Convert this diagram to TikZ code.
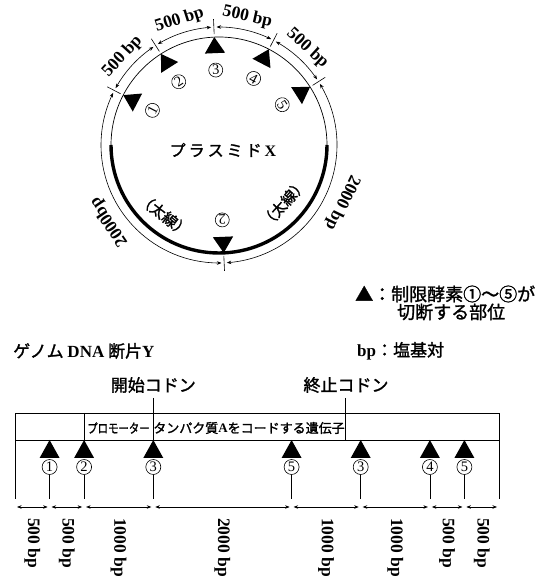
\documentclass[tikz,border=0pt]{standalone}
\usepackage{fontspec}
\setmainfont{Liberation Serif}
\newfontfamily\jp[FakeBold=1.5]{Noto Sans CJK JP}
\usetikzlibrary{arrows.meta,bending}
\tikzset{
  dimline/.style={{Stealth[length=4.5pt,width=3.5pt]}-{Stealth[length=4.5pt,width=3.5pt]}, line width=0.6pt},
  cnum/.style={draw, circle, line width=0.6pt, inner sep=0pt, minimum size=15pt, font=\fontsize{14.5}{14.5}\selectfont},
  lat/.style={font=\bfseries\fontsize{17.5}{18}\selectfont, inner sep=0pt},
  jpl/.style={font=\jp\fontsize{17}{20}\selectfont, inner sep=0pt},
  jps/.style={font=\jp\fontsize{13}{15}\selectfont, inner sep=0pt},
  thinline/.style={line width=0.7pt},
}
\newcommand\lt[1]{{\rmfamily\bfseries #1}}
\begin{document}
\begin{tikzpicture}[x=1pt,y=1pt]
\useasboundingbox (0,0) rectangle (555,580);
% ---------------- plasmid X ----------------
\coordinate (C) at (219,435);
\def\Ro{118}
\def\Ri{108}
\draw[thinline] (C) circle[radius=\Ri];
\draw[line width=3.4pt] ([shift={(180:\Ri)}]C) arc[start angle=180,end angle=360,radius=\Ri];
% outer dimension arcs
\foreach \a/\b in {152.5/122.5, 122.5/92.5, 92.5/62.5, 62.5/32.5, 32.5/-87.5, 272.5/152.5}{
  \draw[dimline] ([shift={(\a-1.3:\Ro)}]C) arc[start angle=\a-1.3, end angle=\b+1.3, radius=\Ro];
}
% ticks, triangles, circled numbers
\foreach \a/\n [count=\i] in {152.5/1, 122.5/2, 92.5/3, 62.5/4, 32.5/5, 272.5/2}{
  \draw[line width=0.6pt] ([shift={(\a:111)}]C) -- ([shift={(\a:126)}]C);
  \fill ([shift={(\a:\Ri)}]C) -- ([shift={(\a+6.3:92.5)}]C) -- ([shift={(\a-6.3:92.5)}]C) -- cycle;
  \node[cnum, minimum size=14pt, rotate=\a-90] (p\i) at ([shift={(\a:75)}]C) {\n};
}
% length labels
\foreach \m [count=\i] in {137.5,107.5,77.5,47.5}{
  \node[lat, rotate=\m-90] (l\i) at ([shift={(\m:131)}]C) {500 bp};
}
\node[lat, rotate=124] (l2000a) at ([shift={(215:134)}]C) {2000bp};
\node[lat, rotate=244] (l2000b) at ([shift={(335:136)}]C) {2000 bp};
\node[jps, font=\jp\fontsize{15}{16}\selectfont, rotate=-38] (ta) at ([shift={(232:89)}]C) {（太線）};
\node[jps, font=\jp\fontsize{15}{16}\selectfont, rotate=48] (tb) at ([shift={(318:87)}]C) {（太線）};
\node[jpl, font=\jp\fontsize{16}{18}\selectfont] (px) at (223,430) {プ\hspace{3pt}ラ\hspace{3pt}ス\hspace{3pt}ミ\hspace{3pt}ド\hspace{3pt}\lt{X}};
% ---------------- legend ----------------
\node[jpl, anchor=west, font=\jp\fontsize{18}{20}\selectfont] (lg1) at (355,286) {▲：制限酵素①～⑤が};
\node[jpl, anchor=west, font=\jp\fontsize{18}{20}\selectfont] (lg2) at (397,268) {切断する部位};
\node[jpl, anchor=west] (lg3) at (357,229) {\lt{\fontsize{17}{20}\selectfont bp}：塩基対};
\node[jpl, anchor=west] (gy) at (13,229) {ゲノム \lt{DNA} 断片\lt{Y}};
% ---------------- genome DNA fragment Y ----------------
\draw[thinline] (15,167) rectangle (499,140);
\draw[thinline] (15,140) -- (15,81);
\draw[thinline] (499,140) -- (499,81);
\draw[thinline] (84.1,167) -- (84.1,140);
\coordinate (st) at (153.3,182);
\coordinate (sp) at (345,182);
\draw[thinline] (st) -- (153.3,140);
\draw[thinline] (sp) -- (345,140);
\node[jpl] (stl) at (153.3,195) {開始コドン};
\node[jpl] (spl) at (346,195) {終止コドン};
\node[jps] (prom) at (118.5,152) {\scalebox{0.8}[1]{プロモーター}};
\node[jps] (gene) at (249,152) {タンパク質\lt{A}をコードする遺伝子};
\foreach \x/\n [count=\i] in {49.6/1, 84.1/2, 153.3/3, 291.6/5, 360.7/3, 429.9/4, 464.4/5}{
  \fill (\x,140) -- (\x-10,122) -- (\x+10,122) -- cycle;
  \node[cnum] (c\i) at (\x,113) {\n};
  \draw[line width=0.6pt] (c\i.south) -- (\x,81);
}
\foreach \a/\b/\t [count=\i] in {15/49.6/500 bp, 49.6/84.1/500 bp, 84.1/153.3/1000 bp, 153.3/291.6/2000 bp, 291.6/360.7/1000 bp, 360.7/429.9/1000 bp, 429.9/464.4/500 bp, 464.4/499/500 bp}{
  \draw[dimline] (\a+2,73) -- (\b-2,73);
  \node[lat, rotate=-90, anchor=west] (d\i) at ({(\a+\b)/2},62) {\t};
}
\end{tikzpicture}
\end{document}
